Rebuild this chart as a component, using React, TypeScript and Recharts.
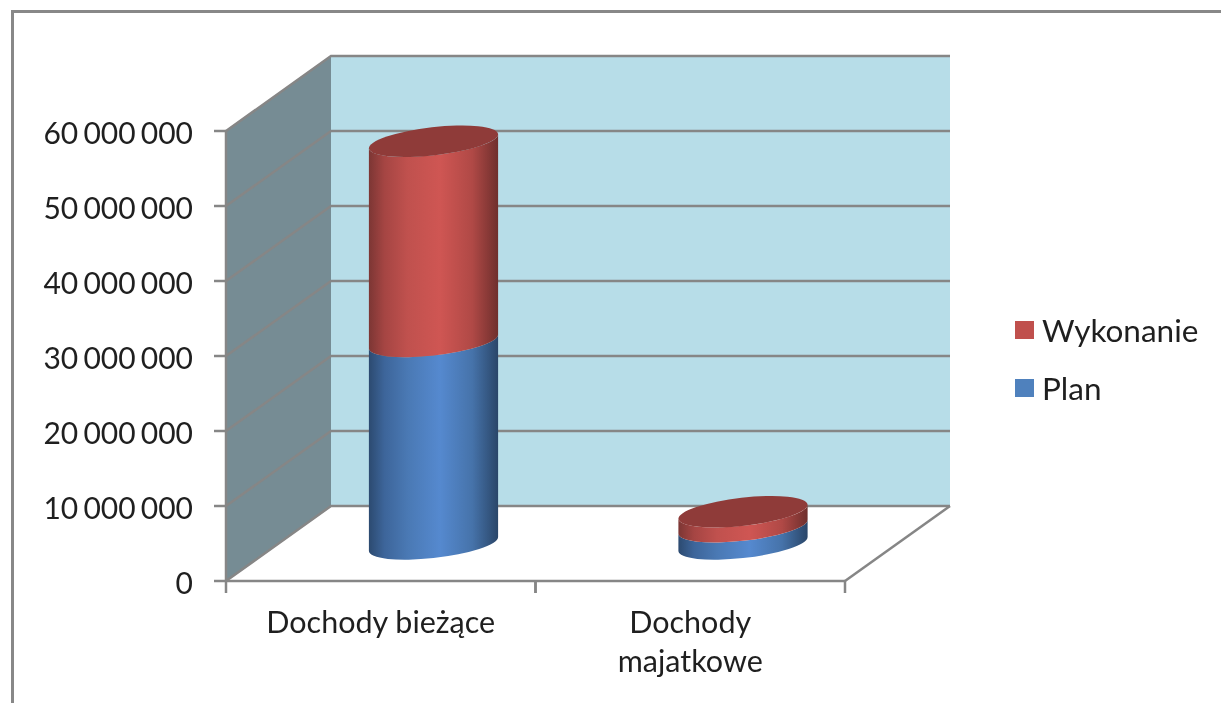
import React from "react";
import { BarChart, Bar, XAxis, YAxis, CartesianGrid, Legend, Customized } from "recharts";

const categories = ["Dochody bieżące", "Dochody majatkowe"];
const categoryLines = [["Dochody bieżące"], ["Dochody", "majatkowe"]];
const planValues = [27000000, 2300000];
const wykonanieValues = [26700000, 2000000];
const yTicks = [0, 10000000, 20000000, 30000000, 40000000, 50000000, 60000000];
const data = categories.map((name, i) => ({ name, Plan: planValues[i], Wykonanie: wykonanieValues[i] }));

const FONT = "Lato, 'Open Sans', sans-serif";
const TEXT = "#1f1f1f";
const LINE = "#868686";
const W = 1221, H = 703;
const LEFT = 226, RIGHT = 845, TOP = 131, BOTTOM = 581;
const DX = 105, DY = 75;
const YW = 150, XH = 60, LW = 190;
const BAR = 130;
const SHIFT_X = 52.5, SHIFT_Y = -37;
const TILT = -6.5, RY = 14;
const FS = 30.5;

function cylinder(fill: string, cap: string | null) {
  return (p: any) => {
    const a = p.width / 2;
    const cx = p.x + a + SHIFT_X;
    const yTop = p.y + SHIFT_Y;
    const yBot = p.y + p.height + SHIFT_Y;
    const th = (TILT * Math.PI) / 180;
    const t0 = Math.atan2(-RY * Math.sin(th), a * Math.cos(th));
    const ex = a * Math.cos(t0) * Math.cos(th) - RY * Math.sin(t0) * Math.sin(th);
    const ey = a * Math.cos(t0) * Math.sin(th) + RY * Math.sin(t0) * Math.cos(th);
    const d = `M${cx - ex},${yBot - ey} A${a},${RY} ${TILT} 0 0 ${cx + ex},${yBot + ey} L${cx + ex},${yTop + ey} A${a},${RY} ${TILT} 0 1 ${cx - ex},${yTop - ey} Z`;
    return (
      <g>
        <path d={d} fill={fill} />
        {cap && <ellipse cx={cx} cy={yTop} rx={a} ry={RY} fill={cap} transform={`rotate(${TILT} ${cx} ${yTop})`} />}
      </g>
    );
  };
}

const Gradients = () => (
  <defs>
    <linearGradient id="gradPlan" x1="0" x2="1" y1="0" y2="0">
      <stop offset="0" stopColor="#2c4a70" />
      <stop offset="0.12" stopColor="#3d659a" />
      <stop offset="0.3" stopColor="#4a79b4" />
      <stop offset="0.55" stopColor="#5589cf" />
      <stop offset="0.8" stopColor="#4673aa" />
      <stop offset="1" stopColor="#2a4669" />
    </linearGradient>
    <linearGradient id="gradWyk" x1="0" x2="1" y1="0" y2="0">
      <stop offset="0" stopColor="#7c3634" />
      <stop offset="0.12" stopColor="#a54543" />
      <stop offset="0.3" stopColor="#c0514e" />
      <stop offset="0.55" stopColor="#cf5653" />
      <stop offset="0.8" stopColor="#b04946" />
      <stop offset="1" stopColor="#6f2f2d" />
    </linearGradient>
  </defs>
);

const gridLine = (p: any) => (
  <polyline
    key={p.key ?? p.y1}
    points={`${p.x1},${p.y1} ${p.x1 + DX},${p.y1 - DY} ${p.x2 + DX},${p.y1 - DY}`}
    fill="none"
    stroke={LINE}
    strokeWidth={2.5}
  />
);

const XTick = (p: any) => {
  const half = (RIGHT - LEFT) / 4;
  const lines = categoryLines[categories.indexOf(p.payload.value)] ?? [p.payload.value];
  return (
    <g>
      <line x1={p.x - half} x2={p.x - half} y1={BOTTOM} y2={BOTTOM + 12} stroke={LINE} strokeWidth={2.5} />
      <line x1={p.x + half} x2={p.x + half} y1={BOTTOM} y2={BOTTOM + 12} stroke={LINE} strokeWidth={2.5} />
      {lines.map((l: string, i: number) => (
        <text key={l} x={p.x} y={633 + i * 39} textAnchor="middle" fontFamily={FONT} fontSize={FS} fill={TEXT}>{l}</text>
      ))}
    </g>
  );
};

const YTick = (p: any) => (
  <text x={p.x} y={p.y + 13} textAnchor="end" fontFamily={FONT} fontSize={30} fill={TEXT} style={{ wordSpacing: -2.5 }}>
    {String(p.payload.value).replace(/\B(?=(\d{3})+$)/g, " ")}
  </text>
);

const LegendBox = (p: any) => {
  const items = [...(p.payload ?? [])].reverse();
  const colors: Record<string, string> = { Plan: "#4f81bd", Wykonanie: "#c0504d" };
  return (
    <div style={{ fontFamily: FONT, fontSize: 31.5, color: TEXT }}>
      {items.map((it: any) => (
        <div key={it.value} style={{ display: "flex", alignItems: "center", height: 58 }}>
          <span style={{ width: 19, height: 18, background: colors[it.value], marginRight: 8, display: "inline-block" }} />
          <span>{it.value}</span>
        </div>
      ))}
    </div>
  );
};

const Backdrop = () => (
  <svg width={W} height={H} style={{ position: "absolute", left: 0, top: 0 }}>
    <polygon points={`${LEFT + DX},${TOP - DY} 950,${TOP - DY} 950,${BOTTOM - DY} ${LEFT + DX},${BOTTOM - DY}`} fill="#b7dde8" />
    <polygon points={`${LEFT},${TOP} ${LEFT + DX},${TOP - DY} ${LEFT + DX},${BOTTOM - DY} ${LEFT},${BOTTOM}`} fill="#768c94" />
    <polyline points={`${RIGHT},${BOTTOM} ${RIGHT + DX},${BOTTOM - DY}`} fill="none" stroke={LINE} strokeWidth={2.5} />
  </svg>
);

export default function App() {
  return (
    <div style={{ position: "absolute", left: 0, top: 0, width: W, height: H, overflow: "hidden", background: "#fff", filter: "blur(0.5px)" }}>
      <div style={{ position: "absolute", left: 11, top: 10, right: -4, bottom: -4, borderLeft: "3px solid #888", borderTop: "3px solid #888" }} />
      <Backdrop />
      <div style={{ position: "absolute", left: 0, top: 0 }}>
        <BarChart
          width={W}
          height={H}
          data={data}
          barSize={BAR}
          margin={{ top: TOP, left: LEFT - YW, right: W - RIGHT - LW, bottom: H - BOTTOM - XH }}
        >
          <Customized component={Gradients} />
          <CartesianGrid horizontal={gridLine} vertical={false} />
          <XAxis dataKey="name" height={XH} axisLine={{ stroke: LINE, strokeWidth: 2.5 }} tickLine={false} tick={XTick} interval={0} />
          <YAxis
            width={YW}
            domain={[0, 60000000]}
            ticks={yTicks}
            tick={YTick}
            axisLine={{ stroke: LINE, strokeWidth: 2.5 }}
            tickLine={{ stroke: LINE, strokeWidth: 2.5 }}
            tickSize={12}
            tickMargin={21}
          />
          <Legend
            layout="vertical"
            align="right"
            verticalAlign="middle"
            width={LW}
            content={LegendBox}
            wrapperStyle={{ position: "absolute", left: 1015, top: 301, width: LW }}
          />
          <Bar dataKey="Plan" stackId="a" fill="#4f81bd" isAnimationActive={false} shape={cylinder("url(#gradPlan)", null)} />
          <Bar dataKey="Wykonanie" stackId="a" fill="#c0504d" isAnimationActive={false} shape={cylinder("url(#gradWyk)", "#8f3b39")} />
        </BarChart>
      </div>
    </div>
  );
}
